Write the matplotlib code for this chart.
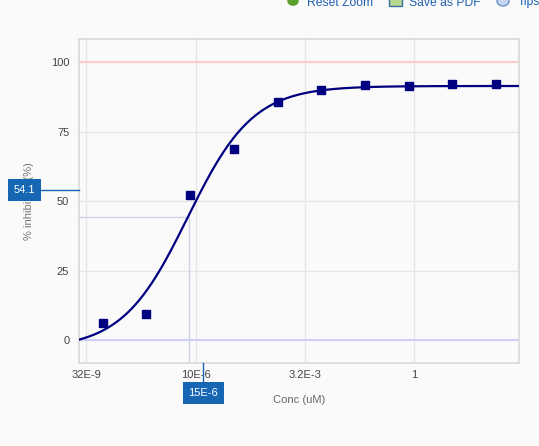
import numpy as np
import matplotlib
matplotlib.use("Agg")
import matplotlib.pyplot as plt
from matplotlib.transforms import blended_transform_factory
from matplotlib.lines import Line2D
from matplotlib.patches import Circle, Rectangle

# ---- data ----
conc = [7.5e-8, 7.5e-7, 7.5e-6, 7.5e-5, 7.5e-4, 7.5e-3, 7.5e-2, 0.75, 7.5, 75.0]
inhibition = [6.2, 9.5, 52.3, 68.7, 85.7, 90.0, 92.0, 91.6, 92.1, 92.3]
# 4PL fit parameters
fit_bottom = -3.0
fit_top = 91.5
fit_log_ic50 = -5.18
fit_hill = 0.58
ic50_conc = 7.0e-6
ic50_level = 44.3
cursor_x = 1.5e-5
cursor_y = 54.1
x_tick_vals = [10**-7.5, 1e-5, 10**-2.5, 1.0]
x_tick_labels = ["32E-9", "10E-6", "3.2E-3", "1"]
y_tick_vals = [0, 25, 50, 75, 100]

plt.rcParams['font.family'] = ['Liberation Sans', 'DejaVu Sans']
W, H = 539, 446
fig = plt.figure(figsize=(W / 100, H / 100), dpi=100)
bg = '#fafafa'
fig.patch.set_facecolor(bg)

L, R, T, B = 79, 519, 39, 363
ax = fig.add_axes([L / W, 1 - B / H, (R - L) / W, (B - T) / H])
ax.set_facecolor(bg)
ax.set_xscale('log')
xmin, xmax = 10**-7.667, 10**2.40
ax.set_xlim(xmin, xmax)
ax.set_ylim(-8.1, 108.4)

ax.set_xticks(x_tick_vals)
ax.set_xticklabels(x_tick_labels)
ax.xaxis.set_minor_locator(matplotlib.ticker.NullLocator())
ax.set_yticks(y_tick_vals)
ax.tick_params(axis='both', length=0, labelsize=8, labelcolor='#444444')
ax.tick_params(axis='y', pad=7)
ax.tick_params(axis='x', pad=5)
ax.grid(True, color='#e6e6e6', lw=1)
ax.set_axisbelow(True)
for s in ax.spines.values():
    s.set_color('#d9d9d9')
    s.set_linewidth(1.2)

# reference lines
ax.axhline(100, color='#ffc6c6', lw=1.2, zorder=1.5)
ax.axhline(0, color='#c8c8ff', lw=1.2, zorder=1.5)
# IC50 guide lines
ax.plot([xmin, ic50_conc], [ic50_level, ic50_level], color='#d2d2e6', lw=1, zorder=1.6)
ax.plot([ic50_conc, ic50_conc], [-8.1, ic50_level], color='#d2d2e6', lw=1, zorder=1.6)

# fitted curve
xs = np.logspace(np.log10(xmin), np.log10(xmax), 400)
ys = fit_bottom + (fit_top - fit_bottom) / (1 + 10 ** ((fit_log_ic50 - np.log10(xs)) * fit_hill))
ax.plot(xs, ys, color='#000080', lw=1.6, zorder=3)
ax.plot(conc, inhibition, 's', color='#000080', ms=6, zorder=4, clip_on=False)

ax.set_xlabel('Conc (uM)', fontsize=8, color='#666666')
ax.xaxis.set_label_coords(0.5, -(398 - B) / (B - T) + 0.01)
ax.set_ylabel('% inhibition (%)', fontsize=8, color='#777777')
ax.yaxis.set_label_coords((34 - L) / (R - L), 0.5)

# crosshair labels
box_col = '#1766b4'
ty = blended_transform_factory(fig.transFigure, ax.transData)
fig.add_artist(Line2D([40 / W, L / W], [cursor_y, cursor_y], transform=ty, color=box_col, lw=1, zorder=10))
fig.text(24.5 / W, cursor_y, '54.1', transform=ty, ha='center', va='center', fontsize=8, color='white',
         zorder=11, bbox=dict(boxstyle='square,pad=0.5', fc=box_col, ec='none'))
tx = blended_transform_factory(ax.transData, fig.transFigure)
fig.add_artist(Line2D([cursor_x, cursor_x], [1 - B / H, 1 - 382 / H], transform=tx, color=box_col, lw=1, zorder=10))
fig.text(cursor_x, 1 - 393 / H, '15E-6', transform=tx, ha='center', va='center', fontsize=8, color='white',
         zorder=11, bbox=dict(boxstyle='square,pad=0.5', fc=box_col, ec='none'))

# toolbar (cut off at top)
tb_col = '#1f5fb0'
for xp, label in [(307, 'Reset Zoom'), (409, 'Save as PDF'), (518, 'Tips')]:
    fig.text(xp / W, 1 - 5.5 / H, label, fontsize=8.7, color=tb_col, ha='left', va='baseline')
fig.add_artist(Circle((293 / W, 1 - 1 / H), 5 / W, transform=fig.transFigure, color='#5aa02c'))
fig.add_artist(Rectangle((389 / W, 1 - 6 / H), 13 / W, 8 / H, transform=fig.transFigure,
                         fc='#b8d88c', ec='#3a6ea5', lw=1))
fig.add_artist(Circle((503 / W, 1 - 1 / H), 6 / W, transform=fig.transFigure, fc='#c5d6ee', ec='#6b8fc9', lw=1))

fig.savefig('out.png', dpi=100, facecolor=bg)
